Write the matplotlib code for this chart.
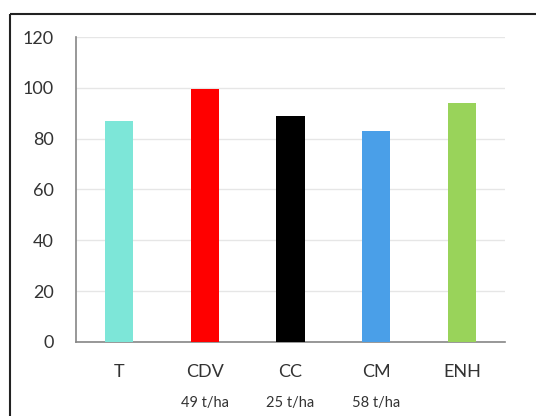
import matplotlib.pyplot as plt
from matplotlib.lines import Line2D
from matplotlib.transforms import blended_transform_factory

categories = ["T", "CDV", "CC", "CM", "ENH"]
values = [87, 99.5, 89, 83, 94]
doses = ["", "49 t/ha", "25 t/ha", "58 t/ha", ""]
colors = ["#7DE6D8", "#FF0000", "#000000", "#4A9FE8", "#99D35A"]

plt.rcParams["font.family"] = ["Lato", "DejaVu Sans"]

fig = plt.figure(figsize=(5.36, 4.16), dpi=100)
ax = fig.add_axes([0.142, 0.178, 0.80, 0.733])

x = range(len(categories))
ax.bar(x, values, width=0.33, color=colors, zorder=3)

ax.set_ylim(0, 120)
ax.set_xlim(-0.5, len(categories) - 0.5)
ax.set_yticks(range(0, 121, 20))
ax.set_xticks(list(x))
ax.set_xticklabels(categories)
ax.tick_params(axis="both", length=0, labelsize=13, colors="#333333")
ax.tick_params(axis="x", pad=16)
ax.tick_params(axis="y", pad=16)
ax.grid(axis="y", color="#E6E6E6", linewidth=1, zorder=0)

for side in ["top", "right"]:
    ax.spines[side].set_visible(False)
for side in ["left", "bottom"]:
    ax.spines[side].set_color("#868686")
    ax.spines[side].set_linewidth(1.2)

# dose labels under the category names
trans = blended_transform_factory(ax.transData, fig.transFigure)
for i, d in enumerate(doses):
    if d:
        ax.text(i, 1 - 403 / 416, d, transform=trans, ha="center", va="center",
                fontsize=10.5, color="#333333")

# outer frame (only top and left are inside the picture)
fx, fy = 9.5 / 536, 1 - 13.5 / 416
fig.add_artist(Line2D([fx, fx], [-0.05, fy], transform=fig.transFigure,
                      color="#222222", linewidth=1.5, solid_capstyle="butt"))
fig.add_artist(Line2D([fx, 1.05], [fy, fy], transform=fig.transFigure,
                      color="#222222", linewidth=1.5, solid_capstyle="butt"))

fig.savefig("out.png", dpi=100, facecolor="white")
